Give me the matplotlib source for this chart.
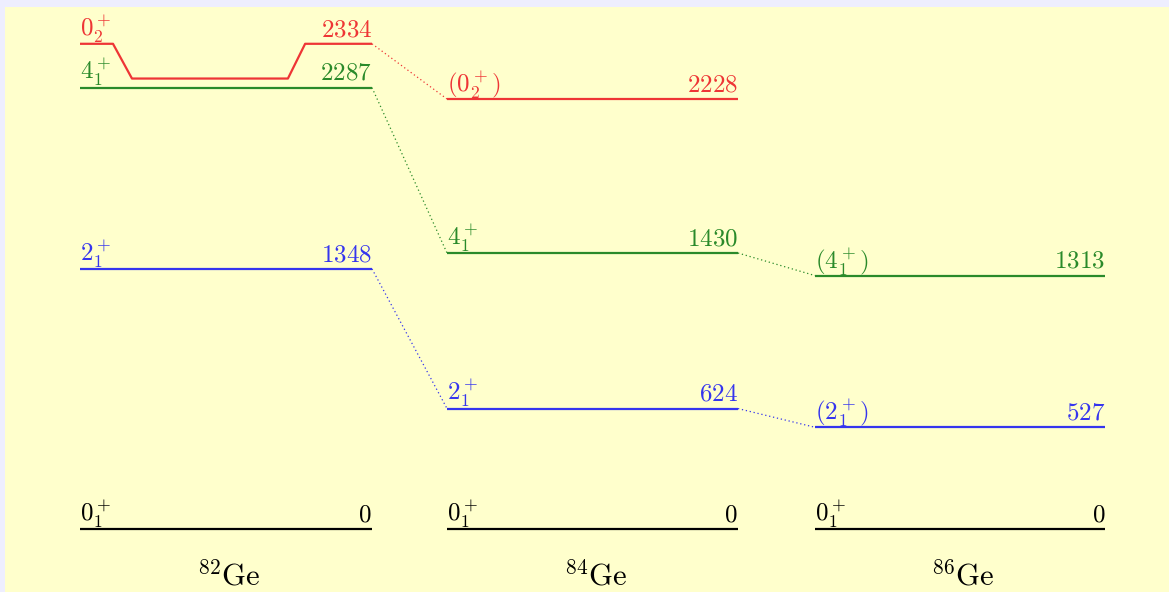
import matplotlib
matplotlib.use('Agg')
from matplotlib import pyplot as plt
from matplotlib import transforms

matplotlib.rcParams['mathtext.fontset'] = 'cm'
matplotlib.rcParams['font.family'] = 'serif'
matplotlib.rcParams['font.serif'] = ['DejaVu Serif']

# level energies (keV) and spin labels for each isotope
isotopes = [r'$^{82}\mathrm{Ge}$', r'$^{84}\mathrm{Ge}$', r'$^{86}\mathrm{Ge}$']
ge82_energy = [0, 1348, 2287, 2334]
ge82_spin = [r'$0^+_1$', r'$2^+_1$', r'$4^+_1$', r'$0^+_2$']
ge84_energy = [0, 624, 1430, 2228]
ge84_spin = [r'$0^+_1$', r'$2^+_1$', r'$4^+_1$', r'$(0^+_2)$']
ge86_energy = [0, 527, 1313]
ge86_spin = [r'$0^+_1$', r'$(2^+_1)$', r'$(4^+_1)$']

energies = [ge82_energy, ge84_energy, ge86_energy]
spins = [ge82_spin, ge84_spin, ge86_spin]
colors = ['black', '#3535ee', '#2a8a2a', '#ee3535']

# layout: column spans in pixels, keV -> px scale
col_x = [(80, 372), (447, 738), (815, 1105)]
scale = 0.193
raised = {(0, 3): 180}   # 0+_2 in 82Ge is lifted at its ends to clear the 4+ label
kink = [0, 0.113, 0.178, 0.712, 0.771, 1]

fig = plt.figure(figsize=(11.69, 5.92), dpi=100)
fig.patch.set_facecolor('#eeeefe')
ax = fig.add_axes([5 / 1169, 0, 1164 / 1169, 585 / 592])
ax.set_facecolor('#ffffcc')
ax.set_xlim(5, 1169)
ax.set_ylim(-63 / scale, 522 / scale)
ax.set_xticks([])
ax.set_yticks([])
for s in ax.spines.values():
    s.set_visible(False)

fs = 18
lw = 1.6
ends = {}
for i, (elist, slist) in enumerate(zip(energies, spins)):
    x0, x1 = col_x[i]
    for j, (e, lab) in enumerate(zip(elist, slist)):
        c = colors[j]
        lift = raised.get((i, j), 0)
        if lift:
            w = x1 - x0
            xs = [x0 + k * w for k in kink]
            ys = [e + lift, e + lift, e, e, e + lift, e + lift]
            ax.plot(xs, ys, color=c, lw=lw, solid_capstyle='butt')
        else:
            ax.plot([x0, x1], [e, e], color=c, lw=lw, solid_capstyle='butt')
        ytxt = e + lift
        ax.annotate(lab, (x0, ytxt), xytext=(0, 5.5), textcoords='offset points',
                    ha='left', va='baseline', color=c, fontsize=fs)
        ax.annotate('$%d$' % e, (x1, ytxt), xytext=(0, 5.5), textcoords='offset points',
                    ha='right', va='baseline', color=c, fontsize=fs)
        ends[(i, j)] = (x0, x1, ytxt)

# dotted connectors between matching levels of neighbouring isotopes
for i in range(len(energies) - 1):
    for j in range(1, min(len(energies[i]), len(energies[i + 1]))):
        a = ends[(i, j)]
        b = ends[(i + 1, j)]
        ax.plot([a[1], b[0]], [a[2], b[2]], color=colors[j], lw=0.9,
                linestyle=(0, (1, 2.2)))

tr = transforms.blended_transform_factory(ax.transData, ax.transAxes)
for i, name in enumerate(isotopes):
    xc = (col_x[i][0] + col_x[i][1]) / 2 + 3
    ax.text(xc, 7 / 585, name, transform=tr, ha='center', va='baseline',
            fontsize=22)

fig.savefig('out.png', dpi=100, facecolor=fig.get_facecolor())
